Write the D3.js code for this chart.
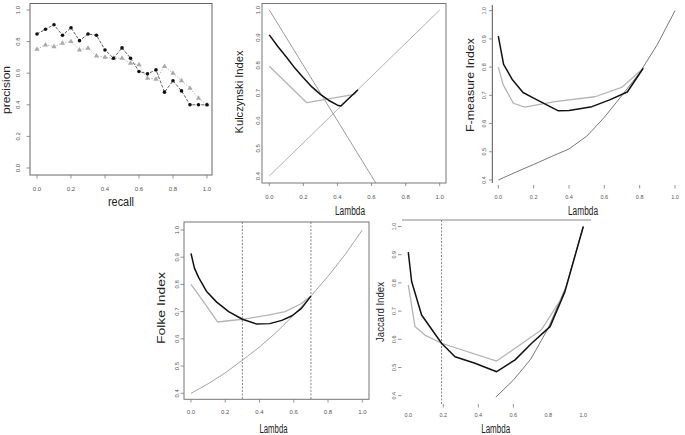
<!DOCTYPE html>
<html><head><meta charset="utf-8">
<script src="https://cdn.jsdelivr.net/npm/d3@7"></script>
<style>body{margin:0;background:#fff}svg{display:block}text{font-family:"Liberation Sans",Arial,sans-serif}</style>
</head><body><svg id="c" width="685" height="435"></svg>
<script>
// ---------- data ----------
const recall = [0,0.05,0.1,0.15,0.2,0.25,0.3,0.35,0.4,0.45,0.5,0.55,0.6,0.65,0.7,0.75,0.8,0.85,0.9,0.95,1.0];
const precisionBlack = [0.848,0.878,0.907,0.84,0.888,0.806,0.848,0.84,0.747,0.695,0.76,0.695,0.611,0.596,0.621,0.48,0.552,0.488,0.4,0.4,0.4];
const precisionGrey = [0.752,0.779,0.768,0.789,0.8,0.747,0.758,0.709,0.701,0.695,0.695,0.663,0.653,0.568,0.562,0.642,0.6,0.552,0.505,0.442,0.4];
const recallTicks = [0,0.2,0.4,0.6,0.8,1.0];
const precisionTicks = [0,0.2,0.4,0.6,0.8,1.0];
const lambdaTicks = [0,0.2,0.4,0.6,0.8,1.0];
const indexTicks = [0.4,0.5,0.6,0.7,0.8,0.9,1.0];

// Kulczynski
const kulBlackLambda = [0,0.05,0.1,0.15,0.2,0.25,0.3,0.35,0.4,0.42,0.52];
const kulBlack = [0.91,0.868,0.83,0.79,0.755,0.722,0.695,0.673,0.656,0.653,0.712];
const kulGreyLambda = [0,0.22,0.5,0.52];
const kulGrey = [0.797,0.665,0.695,0.712];
const kulRiseLambda = [0,1];
const kulRise = [0.4,1.0];
const kulFallLambda = [0,1];
const kulFall = [1.0,0.0];

// F-measure
const fBlackLambda = [0,0.03,0.08,0.14,0.2,0.34,0.4,0.53,0.63,0.73,0.82];
const fBlack = [0.91,0.81,0.755,0.71,0.69,0.645,0.646,0.66,0.684,0.712,0.796];
const fGreyLambda = [0,0.028,0.085,0.15,0.32,0.547,0.698,0.82];
const fGrey = [0.80,0.737,0.672,0.658,0.678,0.695,0.728,0.796];
const fCurveLambda = [0,0.1,0.2,0.3,0.4,0.5,0.6,0.7,0.8,0.9,1.0];
const fCurve = [0.4,0.428,0.455,0.483,0.51,0.555,0.622,0.70,0.78,0.88,1.0];

// Folke
const folkeBlackLambda = [0,0.02,0.045,0.09,0.15,0.22,0.3,0.38,0.46,0.53,0.59,0.645,0.7];
const folkeBlack = [0.914,0.86,0.825,0.775,0.735,0.70,0.672,0.655,0.656,0.668,0.685,0.712,0.757];
const folkeGreyLambda = [0,0.04,0.08,0.155,0.3,0.45,0.55,0.64,0.7];
const folkeGrey = [0.80,0.765,0.73,0.662,0.672,0.687,0.70,0.728,0.757];
const folkeCurveLambda = [0,0.1,0.2,0.3,0.4,0.5,0.6,0.7,0.8,0.9,1.0];
const folkeCurve = [0.4,0.435,0.475,0.522,0.57,0.625,0.688,0.757,0.83,0.91,1.0];
const folkeCutoffs = [0.3,0.7];

// Jaccard
const jacBlackLambda = [0,0.019,0.076,0.19,0.267,0.381,0.505,0.61,0.705,0.81,0.895,1.0];
const jacBlack = [0.909,0.805,0.686,0.586,0.538,0.515,0.485,0.527,0.586,0.645,0.769,1.0];
const jacGreyLambda = [0,0.038,0.095,0.19,0.505,0.61,0.76,0.876];
const jacGrey = [0.793,0.645,0.615,0.586,0.523,0.568,0.633,0.746];
const jacCurveLambda = [0.5,0.6,0.7,0.8,0.9,1.0];
const jacCurve = [0.395,0.455,0.53,0.64,0.785,1.0];
const jacCutoffs = [0.19];
const jacTickMarks = [0.2,0.4,0.6];

// ---------- drawing ----------
const svg = d3.select("#c");
const fmt = d3.format(".1f");
const BLACK = {stroke:"#111", width:1.5};
const LGREY = {stroke:"#b4b4b4", width:1.3};
const THIN = {stroke:"#555", width:0.8};
const THINGREY = {stroke:"#9a9a9a", width:0.9};

function drawLine(g, sx, sy, xs, ys, st, clip) {
  const pts = xs.map((x,i)=>[x, ys[i]]);
  const p = g.append("path")
    .attr("d", d3.line().x(d=>sx(d[0])).y(d=>sy(d[1]))(pts))
    .attr("fill","none").attr("stroke",st.stroke).attr("stroke-width",st.width)
    .attr("stroke-linejoin","round");
  if (st.dash) p.attr("stroke-dasharray", st.dash);
  if (clip) p.attr("clip-path", "url(#"+clip+")");
  return p;
}
function yTickLabels(g, sy, ticks, xBase, size) {
  ticks.forEach(t=>{
    g.append("text").attr("transform",`translate(${xBase},${sy(t)}) rotate(-90)`)
      .attr("text-anchor","middle").attr("font-size",size||6).attr("fill","#555").text(fmt(t));
  });
}
function yTickMarks(g, sy, ticks, x0, x1) {
  ticks.forEach(t=>g.append("line").attr("x1",x0).attr("x2",x1).attr("y1",sy(t)).attr("y2",sy(t)).attr("stroke","#777").attr("stroke-width",0.8));
}
function xTickLabels(g, sx, ticks, yBase, size) {
  ticks.forEach(t=>g.append("text").attr("x",sx(t)).attr("y",yBase).attr("text-anchor","middle")
    .attr("font-size",size||6).attr("fill","#555").text(fmt(t)));
}
function xTickMarks(g, sx, ticks, y0, y1) {
  ticks.forEach(t=>g.append("line").attr("y1",y0).attr("y2",y1).attr("x1",sx(t)).attr("x2",sx(t)).attr("stroke","#777").attr("stroke-width",0.8));
}
function title(g, txt, x, y, size, len, rot) {
  const t = g.append("text").attr("text-anchor","middle").attr("font-size",size).attr("fill","#222").text(txt);
  if (rot) t.attr("transform",`translate(${x},${y}) rotate(-90)`); else t.attr("x",x).attr("y",y);
  if (len) t.attr("textLength",len).attr("lengthAdjust","spacingAndGlyphs");
  return t;
}
function box(g, x0, y0, x1, y1, col) {
  g.append("rect").attr("x",x0).attr("y",y0).attr("width",x1-x0).attr("height",y1-y0)
    .attr("fill","none").attr("stroke",col||"#777").attr("stroke-width",1);
}

// Panel 1: precision-recall
{
  const g = svg.append("g");
  const sx = d3.scaleLinear().domain([0,1]).range([37,207]);
  const sy = d3.scaleLinear().domain([0,1]).range([168,10]);
  box(g,30,3.5,212,175,"#666");
  yTickMarks(g, sy, precisionTicks, 26.5, 30);
  yTickLabels(g, sy, precisionTicks, 20);
  xTickMarks(g, sx, recallTicks, 175, 178.5);
  xTickLabels(g, sx, recallTicks, 190.5);
  drawLine(g, sx, sy, recall, precisionGrey, {stroke:"#aaa", width:0.8, dash:"1.5,1.5"});
  drawLine(g, sx, sy, recall, precisionBlack, {stroke:"#333", width:0.8, dash:"3,1.5"});
  const tri = d3.symbol().type(d3.symbolTriangle).size(12);
  recall.forEach((r,i)=>g.append("path").attr("d",tri()).attr("transform",`translate(${sx(r)},${sy(precisionGrey[i])})`).attr("fill","#aaa"));
  recall.forEach((r,i)=>g.append("circle").attr("cx",sx(r)).attr("cy",sy(precisionBlack[i])).attr("r",1.8).attr("fill","#111"));
  title(g,"recall",121,206,12,26);
  title(g,"precision",9.5,90,11.5,48,true);
}

// Panel 2: Kulczynski
{
  const g = svg.append("g");
  const sx = d3.scaleLinear().domain([0,1]).range([269.3,439.7]);
  const sy = d3.scaleLinear().domain([0.4,1]).range([176,10]);
  svg.append("clipPath").attr("id","clipK").append("rect").attr("x",262).attr("y",3.5).attr("width",184).attr("height",179.5);
  box(g,262,3.5,446,183);
  yTickLabels(g, sy, indexTicks, 259.5);
  xTickMarks(g, sx, lambdaTicks, 183, 186);
  xTickLabels(g, sx, lambdaTicks, 199);
  drawLine(g, sx, sy, kulRiseLambda, kulRise, {stroke:"#a8a8a8", width:0.9}, "clipK");
  drawLine(g, sx, sy, kulFallLambda, kulFall, {stroke:"#7a7a7a", width:0.75}, "clipK");
  drawLine(g, sx, sy, kulGreyLambda, kulGrey, LGREY);
  drawLine(g, sx, sy, kulBlackLambda, kulBlack, BLACK);
  title(g,"Lambda",350,215,12,30);
  title(g,"Kulczynski Index",242.5,92,11,83,true);
}

// Panel 3: F-measure
{
  const g = svg.append("g");
  const sx = d3.scaleLinear().domain([0,1]).range([498.3,675]);
  const sy = d3.scaleLinear().domain([0.4,1]).range([180,10.7]);
  g.append("line").attr("x1",492.3).attr("x2",492.3).attr("y1",5).attr("y2",183).attr("stroke","#555").attr("stroke-width",1);
  yTickMarks(g, sy, indexTicks, 489, 492.3);
  yTickLabels(g, sy, indexTicks, 485.5, 5.5);
  xTickMarks(g, sx, lambdaTicks, 185, 188.5);
  xTickLabels(g, sx, lambdaTicks, 199, 5.5);
  drawLine(g, sx, sy, fCurveLambda, fCurve, THIN);
  drawLine(g, sx, sy, fGreyLambda, fGrey, LGREY);
  drawLine(g, sx, sy, fBlackLambda, fBlack, BLACK);
  title(g,"Lambda",583,215,12,30);
  title(g,"F-measure Index",474,85,11,94,true);
}

// Panel 4: Folke
{
  const g = svg.append("g");
  const sx = d3.scaleLinear().domain([0,1]).range([191,362.3]);
  const sy = d3.scaleLinear().domain([0.4,1]).range([393.3,230]);
  box(g,184,222,369,399.3);
  yTickMarks(g, sy, indexTicks, 180.5, 184);
  yTickLabels(g, sy, indexTicks, 178.5);
  xTickMarks(g, sx, lambdaTicks, 399.3, 402.5);
  xTickLabels(g, sx, lambdaTicks, 414);
  folkeCutoffs.forEach(c=>g.append("line").attr("x1",sx(c)).attr("x2",sx(c)).attr("y1",222).attr("y2",399.3)
    .attr("stroke","#666").attr("stroke-width",0.8).attr("stroke-dasharray","2,1.5"));
  drawLine(g, sx, sy, folkeCurveLambda, folkeCurve, THINGREY);
  drawLine(g, sx, sy, folkeGreyLambda, folkeGrey, LGREY);
  drawLine(g, sx, sy, folkeBlackLambda, folkeBlack, BLACK);
  title(g,"Lambda",273.5,433,12,28);
  title(g,"Folke Index",164.5,308,11.5,72,true);
}

// Panel 5: Jaccard
{
  const g = svg.append("g");
  const sx = d3.scaleLinear().domain([0,1]).range([408.3,583.3]);
  const sy = d3.scaleLinear().domain([0.4,1]).range([395.7,226.5]);
  g.append("line").attr("x1",402).attr("x2",591).attr("y1",220).attr("y2",220).attr("stroke","#888").attr("stroke-width",1);
  yTickMarks(g, sy, indexTicks, 398, 401.5);
  yTickLabels(g, sy, indexTicks, 395.5, 5.5);
  xTickMarks(g, sx, jacTickMarks, 404, 407.5);
  xTickLabels(g, sx, lambdaTicks, 416.5, 5.5);
  jacCutoffs.forEach(c=>g.append("line").attr("x1",sx(c)).attr("x2",sx(c)).attr("y1",220).attr("y2",405)
    .attr("stroke","#666").attr("stroke-width",0.8).attr("stroke-dasharray","2,1.5"));
  drawLine(g, sx, sy, jacCurveLambda, jacCurve, THIN);
  drawLine(g, sx, sy, jacGreyLambda, jacGrey, LGREY);
  drawLine(g, sx, sy, jacBlackLambda, jacBlack, BLACK);
  title(g,"Lambda",495.7,433,12,29);
  title(g,"Jaccard Index",384,312,10,60,true);
}
</script></body></html>
